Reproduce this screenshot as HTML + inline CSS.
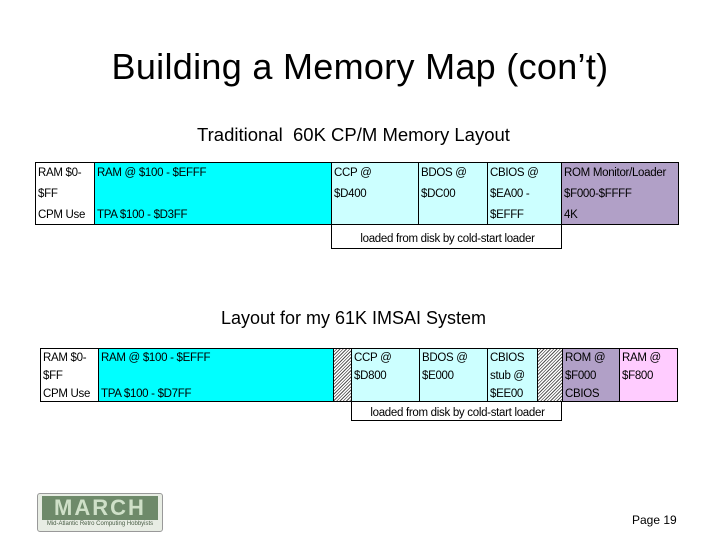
<!DOCTYPE html>
<html><head><meta charset="utf-8"><style>
body{margin:0;width:720px;height:540px;background:#fff;position:relative;overflow:hidden;font-family:"Liberation Sans",sans-serif}
.a{position:absolute}
.c{position:absolute;box-sizing:border-box;border:1px solid #000;font-size:11.5px;line-height:21px;padding-left:2px;white-space:nowrap;color:#000;letter-spacing:-0.3px}
.t2{line-height:18px}
.h{background:repeating-linear-gradient(135deg,#fff 0 1.5px,#555 1.5px 2.3px)}
</style></head><body>
<div class="a" style="left:0;width:720px;top:46px;text-align:center;font-size:36px;letter-spacing:0.3px">Building a Memory Map (con’t)</div>
<div class="a" style="left:0;width:707px;top:124px;text-align:center;font-size:18.5px">Traditional&nbsp; 60K CP/M Memory Layout</div>

<div class="c" style="left:35px;top:162px;width:60px;height:63px">RAM $0-<br>$FF<br>CPM Use</div>
<div class="c" style="left:94px;top:162px;width:238px;height:63px;background:#00ffff">RAM @ $100 - $EFFF<br><br>TPA $100 - $D3FF</div>
<div class="c" style="left:331px;top:162px;width:88px;height:63px;background:#ccffff">CCP @<br>$D400</div>
<div class="c" style="left:418px;top:162px;width:70px;height:63px;background:#ccffff">BDOS @<br>$DC00</div>
<div class="c" style="left:487px;top:162px;width:75px;height:63px;background:#ccffff">CBIOS @<br>$EA00 -<br>$EFFF</div>
<div class="c" style="left:561px;top:162px;width:118px;height:63px;background:#b1a0c7">ROM Monitor/Loader<br>$F000-$FFFF<br>4K</div>
<div class="c" style="left:331px;top:224px;width:231px;height:25px;text-align:center;line-height:28px">loaded from disk by cold-start loader</div>

<div class="a" style="left:0;width:707px;top:308px;text-align:center;font-size:18px">Layout for my 61K IMSAI System</div>

<div class="c t2" style="left:40px;top:348px;width:59px;height:54px">RAM $0-<br>$FF<br>CPM Use</div>
<div class="c t2" style="left:98px;top:348px;width:236px;height:54px;background:#00ffff">RAM @ $100 - $EFFF<br><br>TPA $100 - $D7FF</div>
<div class="c h" style="left:333px;top:348px;width:19px;height:54px"></div>
<div class="c t2" style="left:351px;top:348px;width:69px;height:54px;background:#ccffff">CCP @<br>$D800</div>
<div class="c t2" style="left:419px;top:348px;width:69px;height:54px;background:#ccffff">BDOS @<br>$E000</div>
<div class="c t2" style="left:487px;top:348px;width:51px;height:54px;background:#ccffff">CBIOS<br>stub @<br>$EE00</div>
<div class="c h" style="left:537px;top:348px;width:26px;height:54px"></div>
<div class="c t2" style="left:562px;top:348px;width:58px;height:54px;background:#b1a0c7">ROM @<br>$F000<br>CBIOS</div>
<div class="c t2" style="left:619px;top:348px;width:59px;height:54px;background:#ffccff">RAM @<br>$F800</div>
<div class="c" style="left:351px;top:401px;width:211px;height:20px;text-align:center;line-height:22px">loaded from disk by cold-start loader</div>

<div class="a" style="left:37px;top:493px;width:124px;height:37px;border:1px solid #999;border-radius:3px;background:#e8ede4">
 <div class="a" style="left:4px;top:2px;width:116px;height:24px;background:#6e8a6a;color:#cfe0c8;font-weight:bold;font-size:22px;line-height:24px;text-align:center;letter-spacing:2px">MARCH</div>
 <div class="a" style="left:2px;top:27px;width:120px;font-size:6px;color:#4a5e46;text-align:center">Mid-Atlantic Retro Computing Hobbyists</div>
</div>
<div class="a" style="left:632px;top:513px;font-size:12px">Page 19</div>
</body></html>
